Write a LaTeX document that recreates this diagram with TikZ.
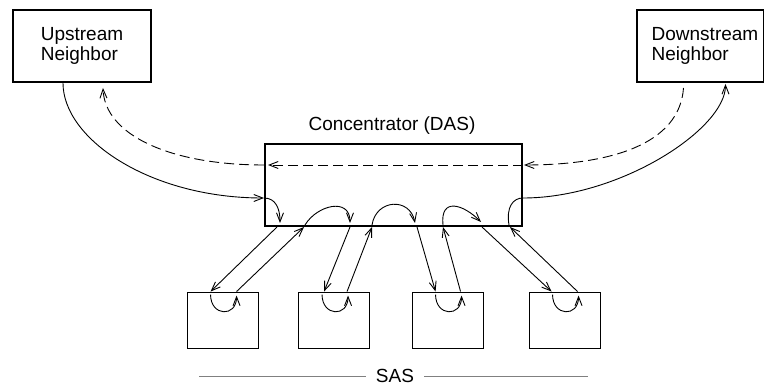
\documentclass[tikz,border=0pt]{standalone}
\usepackage{fontspec}
\setmainfont{Liberation Sans}
\usetikzlibrary{arrows.meta,calc}
\begin{document}
\begin{tikzpicture}[x=1pt,y=-1pt,
  lbl/.style={font=\fontsize{19}{20}\selectfont},
  bigbox/.style={draw,line width=2pt,inner sep=0pt},
  sasbox/.style={draw,line width=0.9pt,minimum width=71pt,minimum height=56pt,inner sep=0pt},
  flow/.style={line width=0.9pt},
  tip/.style={-{Straight Barb[length=9pt,width=7pt]}},
  dashflow/.style={flow,dash pattern=on 10pt off 5pt}]
\useasboundingbox (0,0) rectangle (764,385);
% main boxes
\node[bigbox,minimum width=138pt,minimum height=72pt,lbl,align=left] (up) at (82,46) {Upstream\\Neighbor};
\node[bigbox,minimum width=127pt,minimum height=72pt] (down) at (700,46) {};
\node[lbl,align=left] (downtxt) at (705,46) {Downstream\\Neighbor};
\node[bigbox,minimum width=257pt,minimum height=82pt] (conc) at (393.5,185) {};
\node[lbl,anchor=base] (conclbl) at (392,131) {Concentrator (DAS)};
% SAS boxes
\node[sasbox] (s1) at (222.5,320) {};
\node[sasbox] (s2) at (334,320) {};
\node[sasbox] (s3) at (447.5,320) {};
\node[sasbox] (s4) at (564.5,320) {};
\node[lbl,inner xsep=10pt,inner ysep=1pt] (sas) at (395,375.5) {SAS};
\coordinate (sasL) at (199,376.5);
\coordinate (sasR) at (588,376.5);
\draw[gray,line width=1pt] (sasL) -- (sasL -| sas.west) (sasR -| sas.east) -- (sasR);
% points on the concentrator bottom
\coordinate (a1) at ($(conc.south west)+(13,0)$);
\coordinate (a2) at ($(conc.south west)+(40,0)$);
\coordinate (a3) at ($(conc.south west)+(86,0)$);
\coordinate (a4) at ($(conc.south west)+(108,0)$);
\coordinate (a5) at ($(conc.south west)+(153,0)$);
\coordinate (a6) at ($(conc.south west)+(179,0)$);
\coordinate (a7) at ($(conc.south west)+(218,0)$);
\coordinate (a8) at ($(conc.south west)+(246,0)$);
% points on SAS tops
\coordinate (b1) at ($(s1.north west)+(24,0)$);
\coordinate (b2) at ($(s1.north west)+(50,0)$);
\coordinate (b3) at ($(s2.north west)+(26,0)$);
\coordinate (b4) at ($(s2.north west)+(49,0)$);
\coordinate (b5) at ($(s3.north west)+(24,0)$);
\coordinate (b6) at ($(s3.north west)+(49,0)$);
\coordinate (b7) at ($(s4.north west)+(23,0)$);
\coordinate (b8) at ($(s4.north west)+(49,0)$);
% links
\draw[flow,tip] (a1) -- (b1);
\draw[flow,tip] (b2) -- (a2);
\draw[flow,tip] (a3) -- (b3);
\draw[flow,tip] (b4) -- (a4);
\draw[flow,tip] (a5) -- (b5);
\draw[flow,tip] (b6) -- (a6);
\draw[flow,tip] (a7) -- (b7);
\draw[flow,tip] (b8) -- (a8);
% U turns inside SAS
\foreach \s in {s1,s2,s3,s4}{
  \draw[flow,tip] ($(\s.north west)+(24,3)$) .. controls +(0,22) and +(0,22) .. ($(\s.north west)+(50,4)$);
}
% arches inside concentrator
\draw[flow,tip] ($(conc.south west)+(41,-2)$) .. controls +(12,-20) and +(0,-26) .. ($(conc.south west)+(86,-4)$);
\draw[flow,tip] ($(conc.south west)+(108,-2)$) .. controls +(4,-26) and +(-5,-26) .. ($(conc.south west)+(151,-4)$);
\draw[flow,tip] ($(conc.south west)+(179,-2)$) .. controls +(-3,-28) and +(-18,-18) .. ($(conc.south west)+(217,-5)$);
% junctions
\coordinate (lj) at ($(conc.west)+(0,13)$);
\coordinate (rj) at ($(conc.east)+(0,13)$);
\coordinate (ld) at ($(conc.west)+(0,-20)$);
\coordinate (rd) at ($(conc.east)+(0,-20)$);
% left side
\draw[flow,tip] (lj) .. controls +(12,0) and +(0,-14) .. ($(conc.south west)+(16,-4)$);
\draw[flow,tip] ($(up.south west)+(51,0)$) .. controls +(0,56) and +(-114,0) .. (lj);
\draw[dashflow,tip] (ld) .. controls +(-94,0) and +(2,47) .. ($(up.south west)+(91,5)$);
% dashed through concentrator
\draw[dashflow,tip] (rd) -- ($(ld)+(4,0)$);
% right side
\draw[dashflow,tip] ($(down.south west)+(48,5)$) .. controls +(-4,57) and +(85,0) .. ($(rd)+(1,0)$);
\draw[flow] ($(conc.south east)+(-14,-2)$) .. controls +(-3,-18) and +(-10,0) .. (rj);
\draw[flow,tip] (rj) .. controls +(97,0) and +(0,45) .. ($(down.south west)+(90,1)$);
\end{tikzpicture}
\end{document}
